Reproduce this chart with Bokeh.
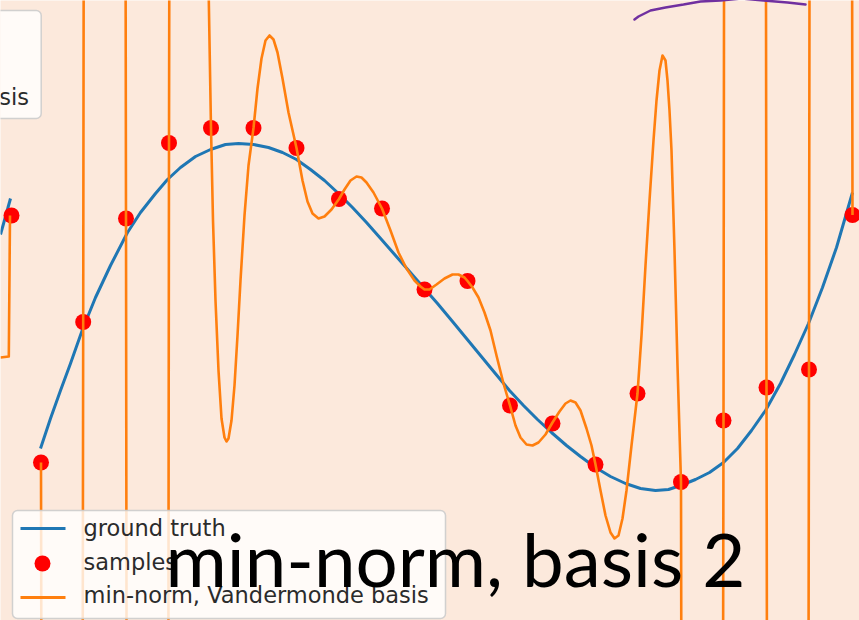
from bokeh.plotting import figure
from bokeh.models import Range1d, Label, BoxAnnotation
from bokeh.embed import file_html
from bokeh.resources import INLINE

# ---- data (plot units: x to the right, y upwards) ----
# ground-truth function, traced densely
truth_x = [40, 50, 60, 70, 82, 95, 110, 127, 140, 155, 167, 180, 195, 210, 225,
           238, 253, 268, 282, 296, 310, 324, 338, 352, 366, 381, 395, 409, 423,
           437, 452, 466, 480, 494, 509, 523, 537, 551, 566, 580, 595, 610, 625,
           640, 655, 668, 680, 695, 709, 723, 737, 751, 765, 780, 794, 808, 822,
           836, 852]
truth_y = [172, 202, 230, 257, 291, 323, 355, 388, 408, 427, 441, 453, 464, 471, 476,
           477, 476, 473, 468, 461, 451, 440, 427, 413, 398, 381, 365, 349, 333,
           317, 299, 282, 265, 248, 230, 215, 201, 188, 175, 164, 153, 144, 137,
           132, 130, 131, 135, 141, 148, 158, 172, 190, 210, 237, 266, 297, 333,
           373, 428]

# noisy samples
sample_x = [40.5, 82.7, 125.5, 168.5, 210.5, 253, 296, 338.5, 381.5, 424,
            467, 509.5, 552, 595, 637, 680.5, 723, 766, 808.5, 852]
sample_y = [158, 298.5, 402, 477.5, 492.5, 492.5, 472.5, 421.5, 412, 331,
            339.5, 215, 197, 156, 227, 138.5, 200, 233, 251, 405.5]

# min-norm interpolant in the Vandermonde basis (leaves the view between edge samples)
fit_x = [40.5, 41.5, 81.7, 82.7, 83.7, 124.5, 125.5, 126.5, 167.5, 168.5, 169.5,
         206.5, 208.3, 210.5, 212.5, 215, 218, 221, 224, 226, 228, 231, 234, 237,
         240, 244, 248, 253, 257, 261, 265, 269, 273, 277, 282, 288, 296, 302,
         307, 312, 318, 324, 331, 338.5, 344, 350, 356, 361, 366, 373, 381.5, 390,
         398, 406, 414, 420, 424, 429, 436, 444, 452, 458, 464, 467, 472, 478,
         484, 490, 496, 503, 509.5, 515, 520, 526, 532, 538, 545, 552, 559, 565,
         570, 575, 580, 586, 591, 595, 600, 605, 610, 614, 618, 622, 626, 631,
         637, 641, 645, 649, 653, 656, 659, 662, 665, 667, 669, 671, 674, 677,
         680.5, 681.5, 722, 723, 724, 765, 766, 767, 807.5, 808.5, 809.5, 851, 852]
fit_y = [158, -380, -380, 298.5, 1020, 1020, 402, -380, -380, 477.5, 1020,
         1020, 620, 492.5, 400, 320, 250, 202, 183, 179, 182, 200, 235, 285,
         340, 405, 455, 492.5, 532, 562, 580, 585, 581, 568, 542, 508, 472.5, 440,
         419, 407, 402, 404, 411, 421.5, 431, 440, 444, 443, 438, 428, 412, 390,
         368, 352, 340, 334, 331, 331, 336, 342, 346, 346, 343, 339.5, 333, 323,
         308, 290, 265, 237, 215, 195, 183, 176, 175, 178, 186, 198, 209, 217,
         220, 218, 210, 192, 175, 156, 130, 105, 88, 82, 85, 102, 130, 175,
         227, 285, 355, 420, 480, 520, 550, 565, 560, 540, 510, 470, 370, 255,
         138.5, -380, -380, 200, 1020, 1020, 233, -380, -380, 251, 1020, 1020, 405.5]

# tail of the neighbouring panel at the left edge
left_truth_x = [0, 10]
left_truth_y = [386, 422]
left_fit_x = [0, 8.3, 9.5]
left_fit_y = [263, 264, 405]
left_sample_x = [11]
left_sample_y = [405]

# hand-drawn purple arc
arc_x = [634, 638, 642, 650, 665, 683, 700, 720, 741, 763, 787, 805]
arc_y = [601, 604, 606, 610, 613, 616, 619, 620, 622, 620, 618, 616]

legend_labels = ["ground truth", "samples", "min-norm, Vandermonde basis"]
clipped_label = "sis"
title_text = "min-norm, basis 2"

BG = "#FCE9DC"
BLUE = "#1f77b4"
ORANGE = "#ff7f0e"
PURPLE = "#7030A0"
TXT = "#2b2b2b"

p = figure(width=859, height=620, x_range=Range1d(0, 859), y_range=Range1d(0, 620),
           output_backend="svg", toolbar_location=None, min_border=0,
           x_axis_location=None, y_axis_location=None,
           background_fill_color=BG, border_fill_color=BG, outline_line_color=None)
p.grid.visible = False

# curves
p.line(left_truth_x, left_truth_y, line_color=BLUE, line_width=3)
p.scatter(left_sample_x, left_sample_y, size=16, color="red", line_color=None)
p.line(left_fit_x, left_fit_y, line_color=ORANGE, line_width=2.6, line_join="round")

p.line(truth_x, truth_y, line_color=BLUE, line_width=3, line_join="round")
p.scatter(sample_x, sample_y, size=16, color="red", line_color=None)
p.line(fit_x, fit_y, line_color=ORANGE, line_width=2.6, line_join="round")

# legend of the neighbouring panel, clipped by the left edge
p.add_layout(BoxAnnotation(left=-20, right=40.7, top=610, bottom=502,
                           fill_color="white", fill_alpha=0.8,
                           line_color="#cccccc", line_alpha=0.9, line_width=1.5,
                           border_radius=5))
p.add_layout(Label(x=28.5, y=524, text=clipped_label, text_align="right",
                   text_baseline="alphabetic", text_font="DejaVu Sans",
                   text_font_size="22.5px", text_color=TXT, level="overlay"))

# legend of this panel
p.add_layout(BoxAnnotation(left=12, right=445, top=110, bottom=2,
                           fill_color="white", fill_alpha=0.8,
                           line_color="#cccccc", line_alpha=0.9, line_width=1.5,
                           border_radius=5))
row_mid = [92, 57, 23]
row_base = [93, 59, 26]
k_line1 = p.line([20, 65], [row_mid[0], row_mid[0]], line_color=BLUE, line_width=3)
k_dot = p.scatter([42], [row_mid[1]], size=16, color="red", line_color=None)
k_line2 = p.line([20, 65], [row_mid[2], row_mid[2]], line_color=ORANGE, line_width=3)
for r in (k_line1, k_dot, k_line2):
    r.level = "overlay"
for lab, yb in zip(legend_labels, row_base):
    p.add_layout(Label(x=83, y=yb, text=lab, text_baseline="alphabetic",
                       text_font="DejaVu Sans", text_font_size="22.5px",
                       text_color=TXT, level="overlay"))

# slide annotations
arc = p.line(arc_x, arc_y, line_color=PURPLE, line_width=2.5, line_cap="round")
arc.level = "overlay"
p.add_layout(Label(x=165, y=63, text=title_text, text_baseline="alphabetic",
                   text_font="Lato", text_font_size="74.5px", text_color="black",
                   level="overlay"))

open("out.html", "w").write(file_html(p, INLINE))
